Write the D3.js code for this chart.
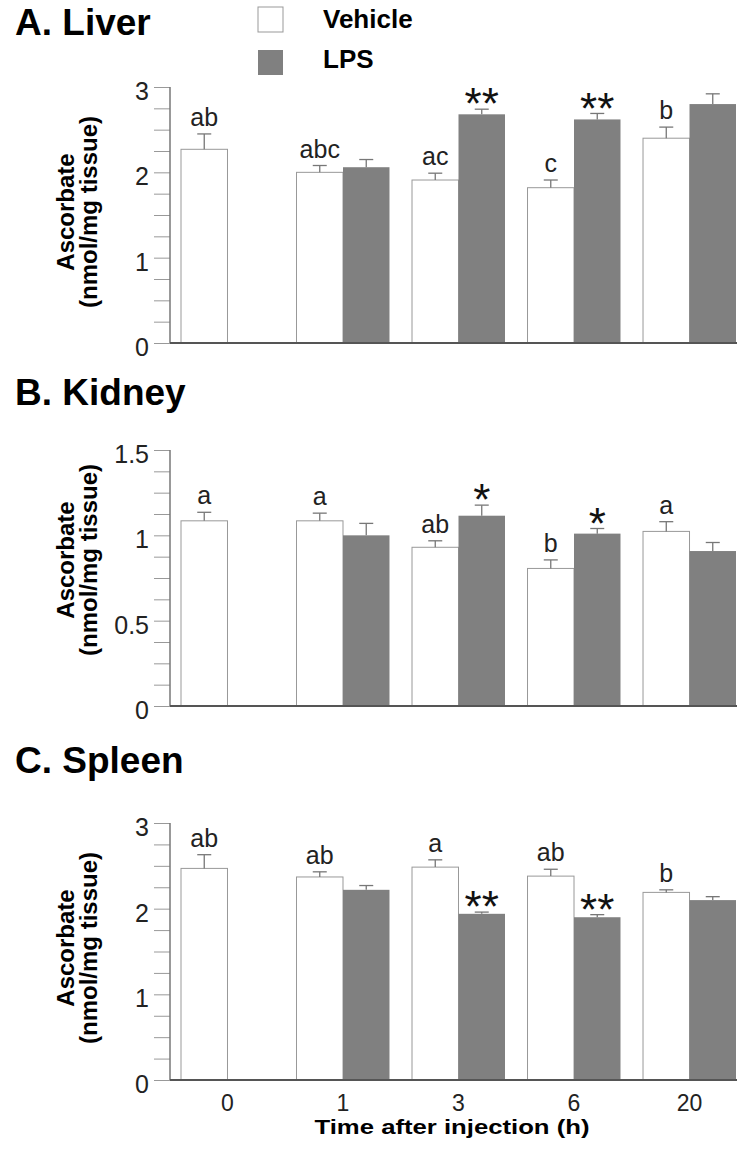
<!DOCTYPE html>
<html>
<head>
<meta charset="utf-8">
<script src="https://cdn.jsdelivr.net/npm/d3@7"></script>
<style>
body { margin: 0; background: #fff; }
svg { display: block; font-family: 'Liberation Sans', Arial, Helvetica, sans-serif; }
</style>
</head>
<body>
<div class="plot"></div>
<script>
// Categories
const times = ['0', '1', '3', '6', '20'];
const groups = ['Vehicle', 'LPS'];

// A. Liver
const liverVehicle    = [2.27, 2.00, 1.91, 1.82, 2.40];
const liverVehicleErr = [0.18, 0.08, 0.08, 0.09, 0.13];
const liverLps        = [null, 2.06, 2.68, 2.62, 2.80];
const liverLpsErr     = [null, 0.09, 0.06, 0.07, 0.12];
const liverLetters    = ['ab', 'abc', 'ac', 'c', 'b'];
const liverStars      = ['', '', '**', '**', ''];

// B. Kidney
const kidneyVehicle    = [1.085, 1.085, 0.93, 0.806, 1.023];
const kidneyVehicleErr = [0.05, 0.045, 0.038, 0.05, 0.057];
const kidneyLps        = [null, 1.00, 1.115, 1.01, 0.908];
const kidneyLpsErr     = [null, 0.07, 0.062, 0.03, 0.05];
const kidneyLetters    = ['a', 'a', 'ab', 'b', 'a'];
const kidneyStars      = ['', '', '*', '*', ''];

// C. Spleen
const spleenVehicle    = [2.47, 2.37, 2.485, 2.38, 2.19];
const spleenVehicleErr = [0.16, 0.06, 0.085, 0.08, 0.03];
const spleenLps        = [null, 2.22, 1.94, 1.90, 2.10];
const spleenLpsErr     = [null, 0.05, 0.02, 0.03, 0.04];
const spleenLetters    = ['ab', 'ab', 'a', 'ab', 'b'];
const spleenStars      = ['', '', '**', '**', ''];

const panelData = [
	{title: 'A. Liver',  max: 3,   minor: 0.25,  major: 1,   veh: liverVehicle,  vehErr: liverVehicleErr,  lps: liverLps,  lpsErr: liverLpsErr,  letters: liverLetters,  stars: liverStars},
	{title: 'B. Kidney', max: 1.5, minor: 0.125, major: 0.5, veh: kidneyVehicle, vehErr: kidneyVehicleErr, lps: kidneyLps, lpsErr: kidneyLpsErr, letters: kidneyLetters, stars: kidneyStars},
	{title: 'C. Spleen', max: 3,   minor: 0.25,  major: 1,   veh: spleenVehicle, vehErr: spleenVehicleErr, lps: spleenLps, lpsErr: spleenLpsErr, letters: spleenLetters, stars: spleenStars}
];

// Layout of each panel (pixels)
const layout = [
	{top: 87,  bottom: 343,  titleY: 35,  labelY: 212},
	{top: 450, bottom: 706,  titleY: 405, labelY: 560},
	{top: 823, bottom: 1080, titleY: 773, labelY: 948}
];

const W = 739, H = 1149;
const axisX = 170, plotRight = 737;
const vehFill = '#fff', lpsFill = '#808080';

const svg = d3.select('.plot').append('svg')
	.attr('width', W)
	.attr('height', H);

const x0 = d3.scaleBand().domain(times).range([181, 736]).paddingInner(0.195);
const x1 = d3.scaleBand().domain(groups).range([0, x0.bandwidth()]);

// Legend
const legend = svg.append('g');
groups.forEach((gName, i) => {
	legend.append('rect')
		.attr('x', 258).attr('y', 7 + i * 43)
		.attr('width', 25).attr('height', 25)
		.attr('fill', i === 0 ? vehFill : lpsFill)
		.attr('stroke', i === 0 ? '#999' : 'none');
	legend.append('text')
		.attr('x', 323).attr('y', 28 + i * 40)
		.style('font-size', '26px').style('font-weight', 'bold')
		.text(gName);
});

panelData.forEach((p, i) => drawPanel(p, layout[i], i === panelData.length - 1));

function drawPanel(p, L, showX){
	const y = d3.scaleLinear().domain([0, p.max]).range([L.bottom, L.top]);
	const g = svg.append('g');

	// Title
	g.append('text')
		.attr('x', 15).attr('y', L.titleY)
		.style('font-size', '37px').style('font-weight', 'bold')
		.text(p.title);

	// Y axis: minor ticks every p.minor, labels on p.major
	const isMajor = d => Math.abs(d / p.major - Math.round(d / p.major)) < 1e-9;
	const yAxis = d3.axisLeft(y)
		.tickValues(d3.range(0, p.max + 1e-9, p.minor))
		.tickSize(16)
		.tickPadding(5)
		.tickFormat(d => isMajor(d) ? d3.format('~g')(d) : '');
	const ya = g.append('g')
		.attr('transform', `translate(${axisX},0)`)
		.call(yAxis);
	ya.select('.domain').remove();
	ya.selectAll('line').attr('stroke', '#999');
	ya.selectAll('text')
		.attr('dy', '0.5em')
		.attr('fill', '#222')
		.style('font-size', '25px')
		.style('font-family', "'Liberation Sans', Arial, sans-serif");
	g.append('line')
		.attr('x1', axisX).attr('x2', axisX)
		.attr('y1', y(0)).attr('y2', y(p.max))
		.attr('stroke', '#777').attr('stroke-width', 1.5);

	// Y label
	const lab = g.append('g').style('font-size', '24px').style('font-weight', 'bold');
	lab.append('text')
		.attr('transform', `translate(74,${L.labelY}) rotate(-90)`)
		.attr('text-anchor', 'middle')
		.text('Ascorbate');
	lab.append('text')
		.attr('transform', `translate(97,${L.labelY}) rotate(-90)`)
		.attr('text-anchor', 'middle')
		.text('(nmol/mg tissue)');

	// Bars
	const rows = times.map((t, i) => ({
		t,
		bars: [
			{key: 'Vehicle', v: p.veh[i], e: p.vehErr[i], note: p.letters[i]},
			{key: 'LPS', v: p.lps[i], e: p.lpsErr[i], note: p.stars[i]}
		].filter(b => b.v != null)
	}));

	const grp = g.selectAll('.grp')
		.data(rows)
		.enter()
		.append('g')
		.attr('class', 'grp')
		.attr('transform', d => `translate(${x0(d.t)},0)`);

	const bar = grp.selectAll('.bar')
		.data(d => d.bars)
		.enter()
		.append('g')
		.attr('class', 'bar');

	bar.append('rect')
		.attr('x', d => x1(d.key))
		.attr('y', d => y(d.v))
		.attr('width', x1.bandwidth())
		.attr('height', d => y(0) - y(d.v))
		.attr('fill', d => d.key === 'Vehicle' ? vehFill : lpsFill)
		.attr('stroke', d => d.key === 'Vehicle' ? '#999' : 'none')
		.attr('stroke-width', 1);

	// Error bars (upper only)
	const cx = d => x1(d.key) + x1.bandwidth() / 2;
	bar.append('line')
		.attr('x1', cx).attr('x2', cx)
		.attr('y1', d => y(d.v)).attr('y2', d => y(d.v + d.e))
		.attr('stroke', '#777').attr('stroke-width', 1.3);
	bar.append('line')
		.attr('x1', d => cx(d) - 7).attr('x2', d => cx(d) + 7)
		.attr('y1', d => y(d.v + d.e)).attr('y2', d => y(d.v + d.e))
		.attr('stroke', '#777').attr('stroke-width', 1.3);

	// Letters / stars
	bar.filter(d => d.note && d.key === 'Vehicle')
		.append('text')
		.attr('x', cx)
		.attr('y', d => y(d.v + d.e) - 8)
		.attr('text-anchor', 'middle')
		.attr('fill', '#222')
		.style('font-size', '25px')
		.text(d => d.note);
	bar.filter(d => d.note && d.key === 'LPS')
		.append('text')
		.attr('x', cx)
		.attr('y', d => y(d.v + d.e) - 15)
		.attr('dy', '0.57em')
		.attr('text-anchor', 'middle')
		.attr('fill', '#111')
		.style('font-size', '44px')
		.text(d => d.note);

	// Baseline
	g.append('line')
		.attr('x1', axisX).attr('x2', plotRight)
		.attr('y1', y(0)).attr('y2', y(0))
		.attr('stroke', '#555').attr('stroke-width', 2);

	if(showX){
		const xa = g.append('g')
			.attr('transform', `translate(0,${y(0)})`)
			.call(d3.axisBottom(x0).tickSize(0).tickPadding(0));
		xa.select('.domain').remove();
		xa.selectAll('text')
			.attr('y', 31)
			.attr('dy', 0)
			.attr('fill', '#222')
			.style('font-size', '23px')
			.style('font-family', "'Liberation Sans', Arial, sans-serif");
		g.append('text')
			.attr('x', 452).attr('y', 1134)
			.attr('text-anchor', 'middle')
			.attr('textLength', 275)
			.attr('lengthAdjust', 'spacingAndGlyphs')
			.style('font-size', '21px').style('font-weight', 'bold')
			.text('Time after injection (h)');
	}
}
</script>
</body>
</html>
